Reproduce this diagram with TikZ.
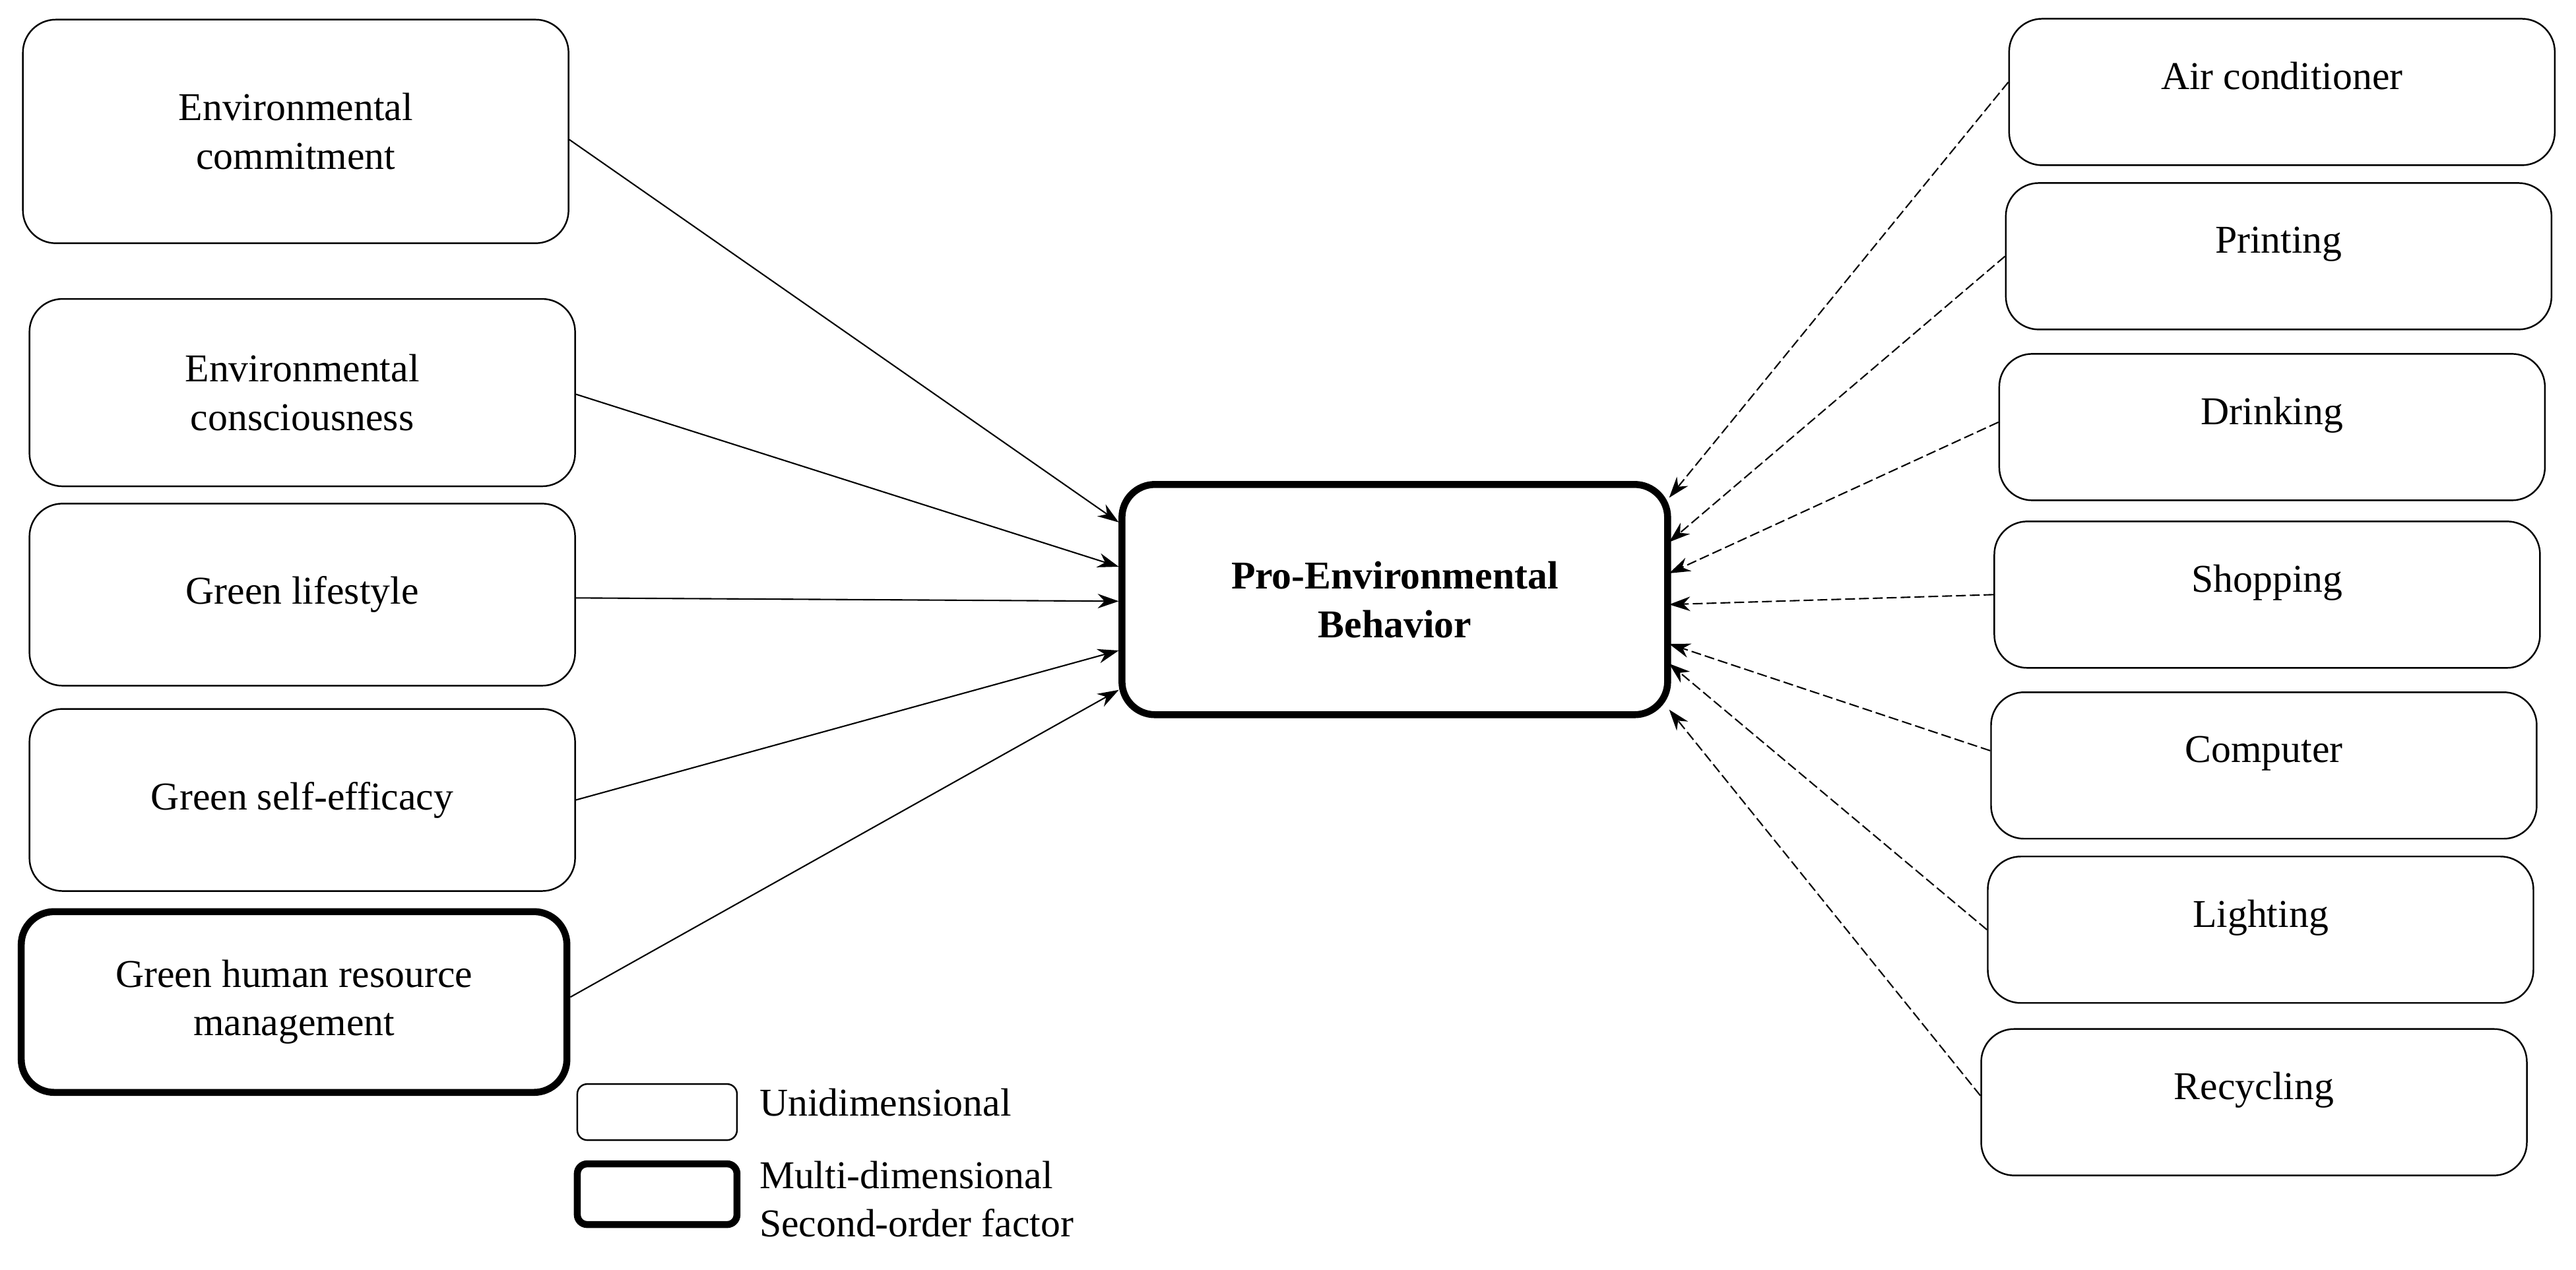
\documentclass[tikz,border=0pt]{standalone}
\usepackage{fontspec}
\setmainfont{Liberation Serif}
\usetikzlibrary{arrows.meta}
\tikzset{
   every path/.style={>={Stealth[length=3.2mm,width=2.2mm]}},
   uni/.style={draw,rounded corners=5mm,line width=0.7pt,align=center,inner sep=0pt,
      font=\fontsize{17}{21}\selectfont,minimum width=82.7mm},
   multi/.style={uni,line width=3pt},
   cause/.style={->,line width=0.6pt},
   item/.style={->,dashed,dash pattern=on 1.5mm off 0.6mm,line width=0.6pt},
   legtext/.style={anchor=west,inner sep=0pt,font=\fontsize{17}{21}\selectfont},
}
\begin{document}
\begin{tikzpicture}[x=0.249mm,y=-0.249mm]
        \useasboundingbox (0,0) rectangle (1568,773);

        % left side
        \node[uni, minimum height=33.9mm] (ec) at (180,80) {Environmental\\commitment};
        \node[uni, minimum height=28.4mm] (ecs) at (184,239) {Environmental\\consciousness};
        \node[uni, minimum height=27.6mm] (gl) at (184,362) {Green lifestyle};
        \node[uni, minimum height=27.6mm] (gse) at (184,487) {Green self-efficacy};
        \node[multi, minimum height=27.4mm] (ghrm) at (179,610) {Green human resource\\management};

        % centre
        \node[multi, minimum height=34.9mm, font=\fontsize{17}{21}\selectfont\bfseries] (peb) at (849,365) {Pro-Environmental\\Behavior};

        % right side
        \node[uni, minimum height=22.2mm] (air) at (1389,56) {Air conditioner\\[-2.4mm]};
        \node[uni, minimum height=22.2mm] (prt) at (1387,156) {Printing\\[-2.4mm]};
        \node[uni, minimum height=22.2mm] (drk) at (1383,260) {Drinking\\[-2.4mm]};
        \node[uni, minimum height=22.2mm] (shp) at (1380,362) {Shopping\\[-2.4mm]};
        \node[uni, minimum height=22.2mm] (cmp) at (1378,466) {Computer\\[-2.4mm]};
        \node[uni, minimum height=22.2mm] (lgt) at (1376,566) {Lighting\\[-2.4mm]};
        \node[uni, minimum height=22.2mm] (rcy) at (1372,671) {Recycling\\[-2.4mm]};

        % legend
        \node[uni, minimum width=24.2mm, minimum height=8.5mm, rounded corners=1.5mm] (lu) at (400,677) {};
        \node[multi, minimum width=24.2mm, minimum height=9.2mm, rounded corners=1.5mm] (lm) at (400,727) {};
        \node[legtext] (lut) at (462,671) {Unidimensional};
        \node[legtext, align=left] (lmt) at (462,730) {Multi-dimensional\\Second-order factor};

        % arrow ends
        \coordinate (p1) at (681,318);
        \coordinate (p2) at (681,345);
        \coordinate (p3) at (681,366);
        \coordinate (p4) at (681,396);
        \coordinate (p5) at (681,420);
        \coordinate (q1) at (1016,303);
        \coordinate (q2) at (1016,330);
        \coordinate (q3) at (1016,349);
        \coordinate (q4) at (1016,368);
        \coordinate (q5) at (1016,392);
        \coordinate (q6) at (1016,404);
        \coordinate (q7) at (1016,432);

        \draw[cause] (ec.east |- 0,85) -- (p1);
        \draw[cause] (ecs.east |- 0,240) -- (p2);
        \draw[cause] (gl.east |- 0,364) -- (p3);
        \draw[cause] (gse.east |- 0,487) -- (p4);
        \draw[cause] (ghrm.east |- 0,607) -- (p5);

        \draw[item] (air.west |- 0,50) -- (q1);
        \draw[item] (prt.west |- 0,156) -- (q2);
        \draw[item] (drk.west |- 0,257) -- (q3);
        \draw[item] (shp.west |- 0,362) -- (q4);
        \draw[item] (cmp.west |- 0,457) -- (q5);
        \draw[item] (lgt.west |- 0,566) -- (q6);
        \draw[item] (rcy.west |- 0,667) -- (q7);
      \end{tikzpicture}
\end{document}
